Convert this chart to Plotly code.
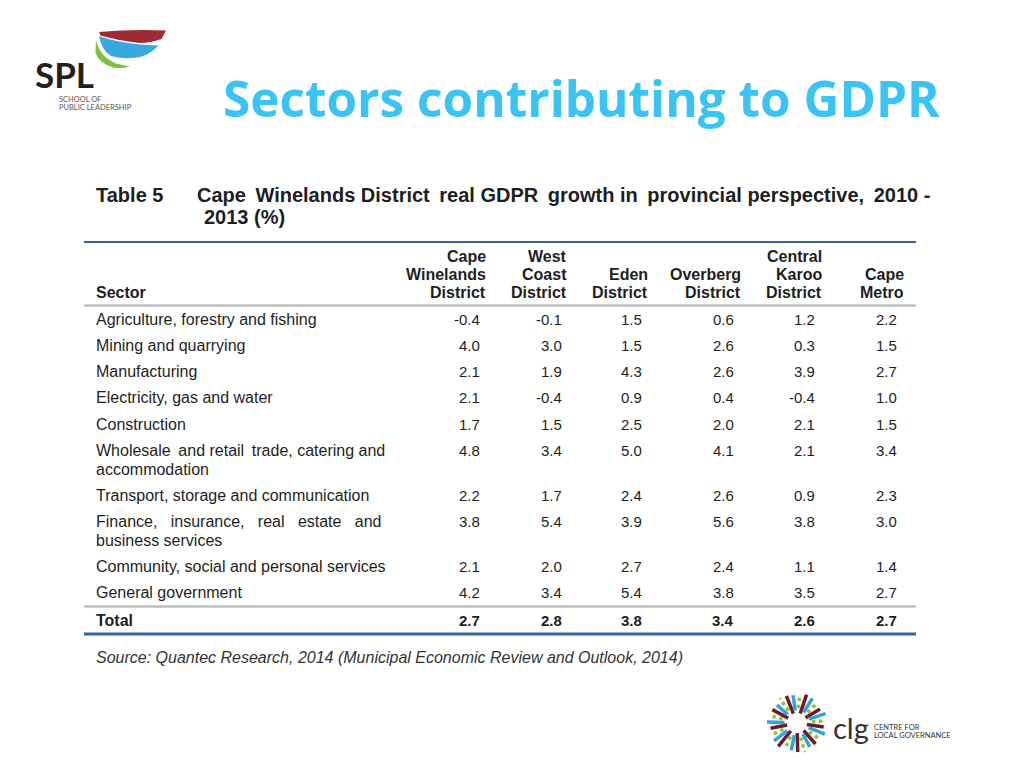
import math
import plotly.graph_objects as go

# ---------------- data ----------------
slide_title = "Sectors contributing to GDPR"
table_label = "Table 5"
table_title_1 = "Cape Winelands District real GDPR growth in provincial perspective, 2010 -"
table_title_2 = "2013 (%)"
columns = ["Cape<br>Winelands<br>District", "West<br>Coast<br>District", "Eden<br>District",
           "Overberg<br>District", "Central<br>Karoo<br>District", "Cape<br>Metro"]
sectors = [
    "Agriculture, forestry and fishing",
    "Mining and quarrying",
    "Manufacturing",
    "Electricity, gas and water",
    "Construction",
    "Wholesale and retail trade, catering and<br>accommodation",
    "Transport, storage and communication",
    "Finance, insurance, real estate and<br>business services",
    "Community, social and personal services",
    "General government",
]
cape_winelands = [-0.4, 4.0, 2.1, 2.1, 1.7, 4.8, 2.2, 3.8, 2.1, 4.2]
west_coast = [-0.1, 3.0, 1.9, -0.4, 1.5, 3.4, 1.7, 5.4, 2.0, 3.4]
eden = [1.5, 1.5, 4.3, 0.9, 2.5, 5.0, 2.4, 3.9, 2.7, 5.4]
overberg = [0.6, 2.6, 2.6, 0.4, 2.0, 4.1, 2.6, 5.6, 2.4, 3.8]
central_karoo = [1.2, 0.3, 3.9, -0.4, 2.1, 2.1, 0.9, 3.8, 1.1, 3.5]
cape_metro = [2.2, 1.5, 2.7, 1.0, 1.5, 3.4, 2.3, 3.0, 1.4, 2.7]
totals = [2.7, 2.8, 3.8, 3.4, 2.6, 2.7]
source_note = "Source: Quantec Research, 2014 (Municipal Economic Review and Outlook, 2014)"

# ---------------- layout constants ----------------
OFF = 8                      # page body margin of the html page
W, H = 1024 - 2 * OFF, 768 - 2 * OFF
TXT = "#1e1e1e"
BLUE_RULE = "#3A62A0"
GREY_RULE = "#BDBDBD"
BODY_FONT = "Liberation Sans, Arial, sans-serif"
NUM_FONT = "Liberation Sans Narrow, Arial Narrow, Liberation Sans, Arial, sans-serif"
col_right = [487, 568, 649, 742, 823, 905]      # header right edges
val_right = [481, 563, 643, 735, 816, 898]      # value right edges
left_x = 95
row0_y, row_step, line_step = 319, 26.3, 18.5
NBSP, THIN = "\u00a0", "\u2009"

value_cols = [cape_winelands, west_coast, eden, overberg, central_karoo, cape_metro]

fig = go.Figure()
ann = []
shapes = []

def text(x, y, s, size, color=TXT, family=BODY_FONT, xanchor="left", yanchor="middle", bold=False, italic=False):
    if bold:
        s = "<b>" + s + "</b>"
    if italic:
        s = "<i>" + s + "</i>"
    ann.append(dict(x=x, y=y, xref="x", yref="y", text=s, showarrow=False,
                    xanchor=xanchor, yanchor=yanchor, borderpad=0,
                    font=dict(size=size, color=color, family=family)))

def spread(line, gaps):
    """widen the word gaps of a justified line: gaps = extra spacer string per gap"""
    words = line.split(" ")
    out = words[0]
    for i, w in enumerate(words[1:]):
        out += NBSP + gaps[i % len(gaps)] + w
    return out

# slide title
text(581, 98, slide_title, 49.5, color="#3BC3F3", family="Open Sans, sans-serif",
     xanchor="center", bold=True)

# table caption
text(left_x, 195, table_label, 20, bold=True)
text(196, 195, spread(table_title_1, [THIN, ""]), 20, bold=True)
text(203, 217, table_title_2, 20, bold=True)

# rules
def hline(y, color, width):
    shapes.append(dict(type="line", xref="x", yref="y", x0=84, x1=916, y0=y, y1=y,
                       line=dict(color=color, width=width)))
hline(242, BLUE_RULE, 2)
hline(305.5, GREY_RULE, 2.5)
hline(606.5, GREY_RULE, 2.5)
hline(634, BLUE_RULE, 3)

# headers (bottom-aligned lines)
text(left_x, 292, "Sector", 16, bold=True)
for cx, col in zip(col_right, columns):
    lines = col.split("<br>")
    n = len(lines)
    for k, ln in enumerate(lines):
        text(cx, 292 - (n - 1 - k) * 18, ln, 16, xanchor="right", bold=True)

# rows
y = row0_y
row_ys = []
for s in sectors:
    lines = s.split("<br>")
    row_ys.append(y)
    for k, ln in enumerate(lines):
        if len(lines) > 1 and k == 0:
            if ln.startswith("Finance"):
                ln = spread(ln, [NBSP + NBSP])
            else:
                ln = spread(ln, [THIN, "", THIN, "", ""])
        text(left_x, y + k * line_step, ln, 16)
    y += row_step + (len(lines) - 1) * line_step

for vx, vals in zip(val_right, value_cols):
    for ry, v in zip(row_ys, vals):
        text(vx, ry, f"{v:.1f}", 15, family=NUM_FONT, xanchor="right")

total_y = 620
text(left_x, total_y, "Total", 16, bold=True)
for vx, v in zip(val_right, totals):
    text(vx, total_y, f"{v:.1f}", 15, family=NUM_FONT, xanchor="right", bold=True)

text(left_x, 657, source_note, 16, color="#333333", italic=True)

# ---------------- SPL logo ----------------
shapes.append(dict(type="path", xref="x", yref="y", line=dict(width=0), fillcolor="#9E2B35",
                   path="M 99 32 Q 130 29 166 30.5 L 161.5 39 Q 150 43 140 43 "
                        "Q 120 41 100.5 35.5 Z"))
shapes.append(dict(type="path", xref="x", yref="y", line=dict(width=0), fillcolor="#38A9DE",
                   path="M 99 36 Q 115 42 140 44.5 L 158.5 45.5 Q 150 54.5 140 57 "
                        "Q 124 60 111 56 Q 102 51 99 36 Z"))
shapes.append(dict(type="path", xref="x", yref="y", line=dict(width=0), fillcolor="#7DC242",
                   path="M 96 39.5 Q 99 56 116 63.5 L 130 66.5 Q 122 69 113 67.5 "
                        "Q 99 63 95.5 53 Z"))
text(34, 74, "SPL", 35, color="#231F20", family="Lato, sans-serif", bold=True)
text(58, 99, "SCHOOL OF", 7.5, color="#555555", family="Lato, sans-serif")
text(58, 107.5, "PUBLIC LEADERSHIP", 7.5, color="#555555", family="Lato, sans-serif")

# ---------------- CLG logo ----------------
cx0, cy0 = 797, 723
ray_colors = ["#6E1A2A", "#2EA3DD", "#8CC63F"]
n_rays = 27
for i in range(n_rays):
    a = 2 * math.pi * i / n_rays + 0.15
    r_in = 10 + (i % 3) * 2.5
    r_out = 27 + ((i * 7) % 4)
    shapes.append(dict(type="line", xref="x", yref="y",
                       x0=cx0 + r_in * math.cos(a), y0=cy0 + r_in * math.sin(a),
                       x1=cx0 + r_out * math.cos(a), y1=cy0 + r_out * math.sin(a),
                       line=dict(color=ray_colors[i % 3], width=3.5,
                                 dash="dot" if i % 3 == 2 else "solid")))
text(832, 727, "clg", 29, color="#333333", family="Lato, sans-serif")
text(873, 727.5, "CENTRE FOR", 7.5, color="#333333", family="Lato, sans-serif")
text(873, 735, "LOCAL GOVERNANCE", 7.5, color="#333333", family="Lato, sans-serif")

fig.update_layout(
    width=W, height=H,
    margin=dict(l=0, r=0, t=0, b=0),
    paper_bgcolor="white", plot_bgcolor="white",
    xaxis=dict(range=[OFF, OFF + W], visible=False, fixedrange=True),
    yaxis=dict(range=[OFF + H, OFF], visible=False, fixedrange=True),
    annotations=ann, shapes=shapes, showlegend=False,
    font=dict(family=BODY_FONT, color=TXT),
)
fig.write_html("out.html", config={"displayModeBar": False})
